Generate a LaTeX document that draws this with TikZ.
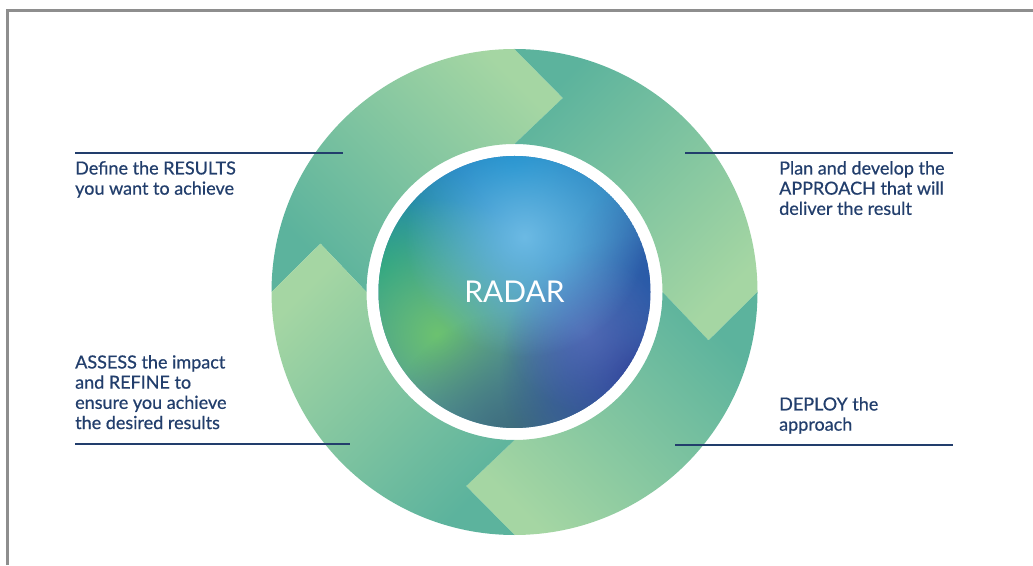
\documentclass[tikz,border=0pt]{standalone}
\usepackage{fontspec}
\setmainfont{Lato}
\newfontfamily\labelfont{Lato}[FakeBold=0.6]
\usetikzlibrary{fadings}
\tikzfading[name=spotfade, inner color=transparent!0, outer color=transparent!100]
\definecolor{lightg}{HTML}{A5D6A3}
\definecolor{tealg}{HTML}{5CB39D}
\definecolor{navy}{HTML}{223E6C}
\definecolor{framegray}{HTML}{8E8E8E}
\definecolor{cbase}{HTML}{4A82B6}
\definecolor{ctop}{HTML}{0A86C8}
\definecolor{chigh}{HTML}{6CBAE4}
\definecolor{cteal}{HTML}{179C8C}
\definecolor{cgreen}{HTML}{6CC270}
\definecolor{cindigo}{HTML}{2B3E95}
\definecolor{cperi}{HTML}{5A70BC}
\definecolor{cright}{HTML}{2758A8}
\definecolor{cgray}{HTML}{3D6B78}
\tikzset{
  label text/.style={font=\labelfont\fontsize{18}{20.2}\selectfont, text=navy, align=left, inner sep=0pt, anchor=north west},
  leader/.style={draw=navy, line width=1.1pt},
  spot/.style={path fading=spotfade},
}
\begin{document}
\begin{tikzpicture}[x=1pt,y=1pt]
\useasboundingbox (0,0) rectangle (1033,565);
\draw[framegray, line width=2.2pt] (7.5,0) -- (7.5,554.5) -- (1033,554.5);
\begin{scope}[shift={(514.5,273)}]
  \foreach \a/\ang in {180/-45, 90/-135, 0/135, 270/45}{
    \shade[top color=lightg, bottom color=tealg, shading angle=\ang]
      (\a:243) arc[start angle=\a, end angle={\a-90}, radius=243]
      -- ({\a-104}:200) -- ({\a-90}:148)
      arc[start angle={\a-90}, end angle=\a, radius=148]
      -- ({\a-14}:200) -- cycle;
  }
  \begin{scope}
    \clip (0,0) circle (136);
    \fill[cbase] (0,0) circle (136);
    \fill[ctop, spot] (0,125) circle (170);
    \fill[cteal, spot] (-135,25) circle (125);
    \fill[cgreen, spot] (-78,-42) circle (135);
    \fill[cgray, spot] (0,-150) circle (130);
    \fill[cindigo, spot] (120,-80) circle (135);
    \fill[cright, spot] (145,20) circle (95);
    \fill[cperi, spot, opacity=0.7] (70,-40) circle (80);
    \fill[chigh, spot] (10,55) circle (120);
  \end{scope}
  \node[text=white, font=\fontsize{30}{30}\selectfont] (radar) at (0,0) {RADAR};
\end{scope}
% leader lines
\coordinate (l1a) at (75,412); \coordinate (l1b) at (343,412);
\coordinate (l2a) at (685,412); \coordinate (l2b) at (953,412);
\coordinate (l3a) at (75,121); \coordinate (l3b) at (350,121);
\coordinate (l4a) at (675,120); \coordinate (l4b) at (953,120);
\draw[leader] (l1a) -- (l1b);
\draw[leader] (l2a) -- (l2b);
\draw[leader] (l3a) -- (l3b);
\draw[leader] (l4a) -- (l4b);
\node[label text] (results) at (75,404) {Define the RESULTS\\you want to achieve};
\node[label text] (approach) at (779,404) {Plan and develop the\\APPROACH that will\\deliver the result};
\node[label text] (assess) at (75,210) {ASSESS the impact\\and REFINE to\\ensure you achieve\\the desired results};
\node[label text] (deploy) at (779,168) {DEPLOY the\\approach};
\end{tikzpicture}
\end{document}
